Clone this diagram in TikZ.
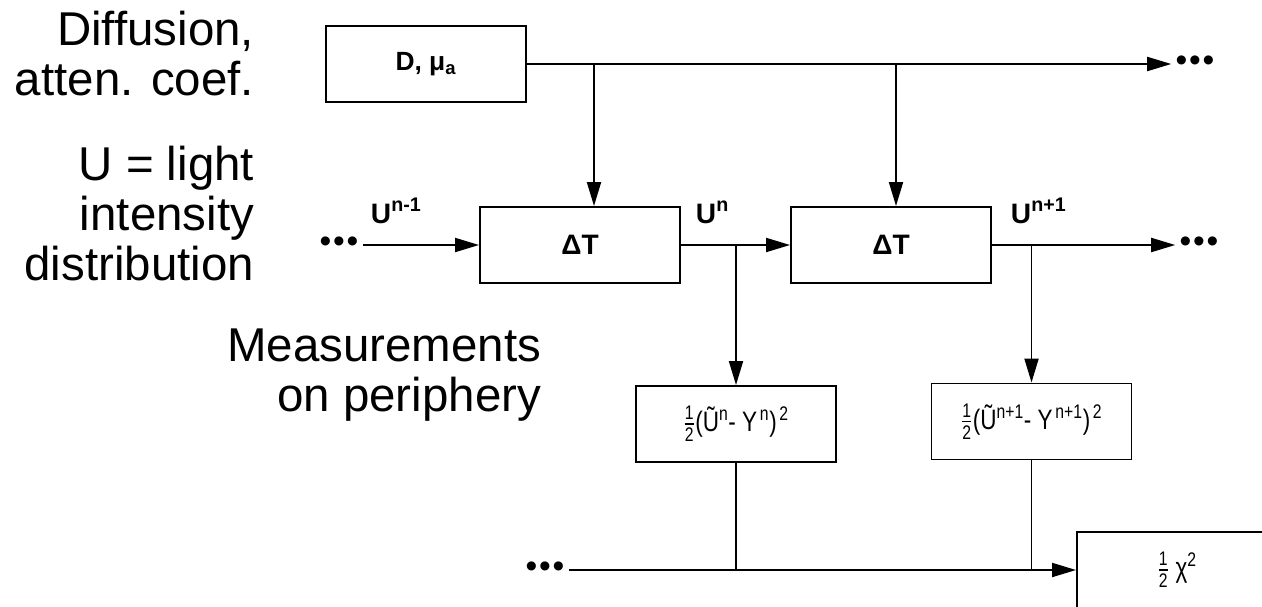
\documentclass[tikz,border=0pt]{standalone}
\usepackage{fontspec}
\setmainfont{Liberation Sans}
\usepackage{amsmath}
\usepackage{graphicx}
\usetikzlibrary{arrows.meta,positioning}
\newcommand{\half}{$\frac{\text{1}}{\text{2}}$}
\newcommand{\narrow}[1]{\scalebox{0.8}[1]{#1}}

\begin{document}
\begin{tikzpicture}[>={Triangle[length=0.48cm,width=0.28cm]},line width=1.1pt,
    blk/.style={draw,line width=1.1pt,minimum width=4cm,minimum height=1.52cm,font=\fontsize{15}{17}\selectfont\bfseries},
    big/.style={font=\fontsize{16}{18}\selectfont\bfseries},
    meas/.style={font=\fontsize{16}{18}\selectfont},
    side/.style={align=right,anchor=north east,inner sep=0pt,font=\fontsize{27}{28.45}\selectfont},
    dots/.style={inner sep=2pt,font=\fontsize{19}{22}\selectfont}]
      \useasboundingbox (0,0) rectangle (25.24,-12.12);
      % texts on the left
      \node[side] (t1) at (5.1,-0.2) {Diffusion,\\atten. coef.};
      \node[side] (t2) at (5.1,-2.9) {U = light\\intensity\\distribution};
      \node[side] (t3) at (10.84,-6.56) {Measurements\\on periphery};
      % boxes
      \node[blk] (dmu) at (8.52,-1.28) {D, μ\textsubscript{a}};
      \node[blk,big] (dt1) at (11.6,-4.9) {ΔT};
      \node[blk,big] (dt2) at (17.82,-4.9) {ΔT};
      \node[blk,meas] (m1) at (14.72,-8.48) {\narrow{\half(Ũ\textsuperscript{n}- Y\textsuperscript{\,n})\textsuperscript{\,2}}};
      \node[blk,meas] (m2) at (20.63,-8.43) {\narrow{\half(Ũ\textsuperscript{n+1}- Y\textsuperscript{\,n+1})\textsuperscript{\,2}}};
      \node[blk,meas] (chi) at (23.54,-11.4) {\narrow{\half\ χ\textsuperscript{2}}};
      % dots
      \node[dots] (dtop) at (23.9,-1.28) {•\kern1pt•\kern1pt•};
      \node[dots] (dl) at (6.78,-4.9) {•\kern1pt•\kern1pt•};
      \node[dots] (dr) at (23.98,-4.9) {•\kern1pt•\kern1pt•};
      \node[dots] (db) at (10.9,-11.4) {•\kern1pt•\kern1pt•};
      % labels
      \node[big,anchor=base west,inner sep=0pt] (u0) at (7.4,-4.46) {U\textsuperscript{n-1}};
      \node[big,anchor=base west,inner sep=0pt] (u1) at (13.9,-4.46) {U\textsuperscript{n}};
      \node[big,anchor=base west,inner sep=0pt] (u2) at (20.2,-4.46) {U\textsuperscript{n+1}};
      \coordinate (b1) at (11.88,-1.28);
      \coordinate (b2) at (17.92,-1.28);
      % connectors
      \draw[->] (dmu) -- (dtop);
      \draw[->] (b1) -- (b1 |- dt1.north);
      \draw[->] (b2) -- (b2 |- dt2.north);
      \draw[->] (dl) -- (dt1);
      \draw[->] (dt1) -- (dt2);
      \draw[->] (dt2) -- (dr);
      \draw[->] (dt1.east -| m1) -- (m1);
      \draw[->] (dt2.east -| m2) -- (m2);
      \draw[->] (db) -- (chi);
      \draw (m1) -- (m1 |- chi);
      \draw (m2) -- (m2 |- chi);
    \end{tikzpicture}
\end{document}
